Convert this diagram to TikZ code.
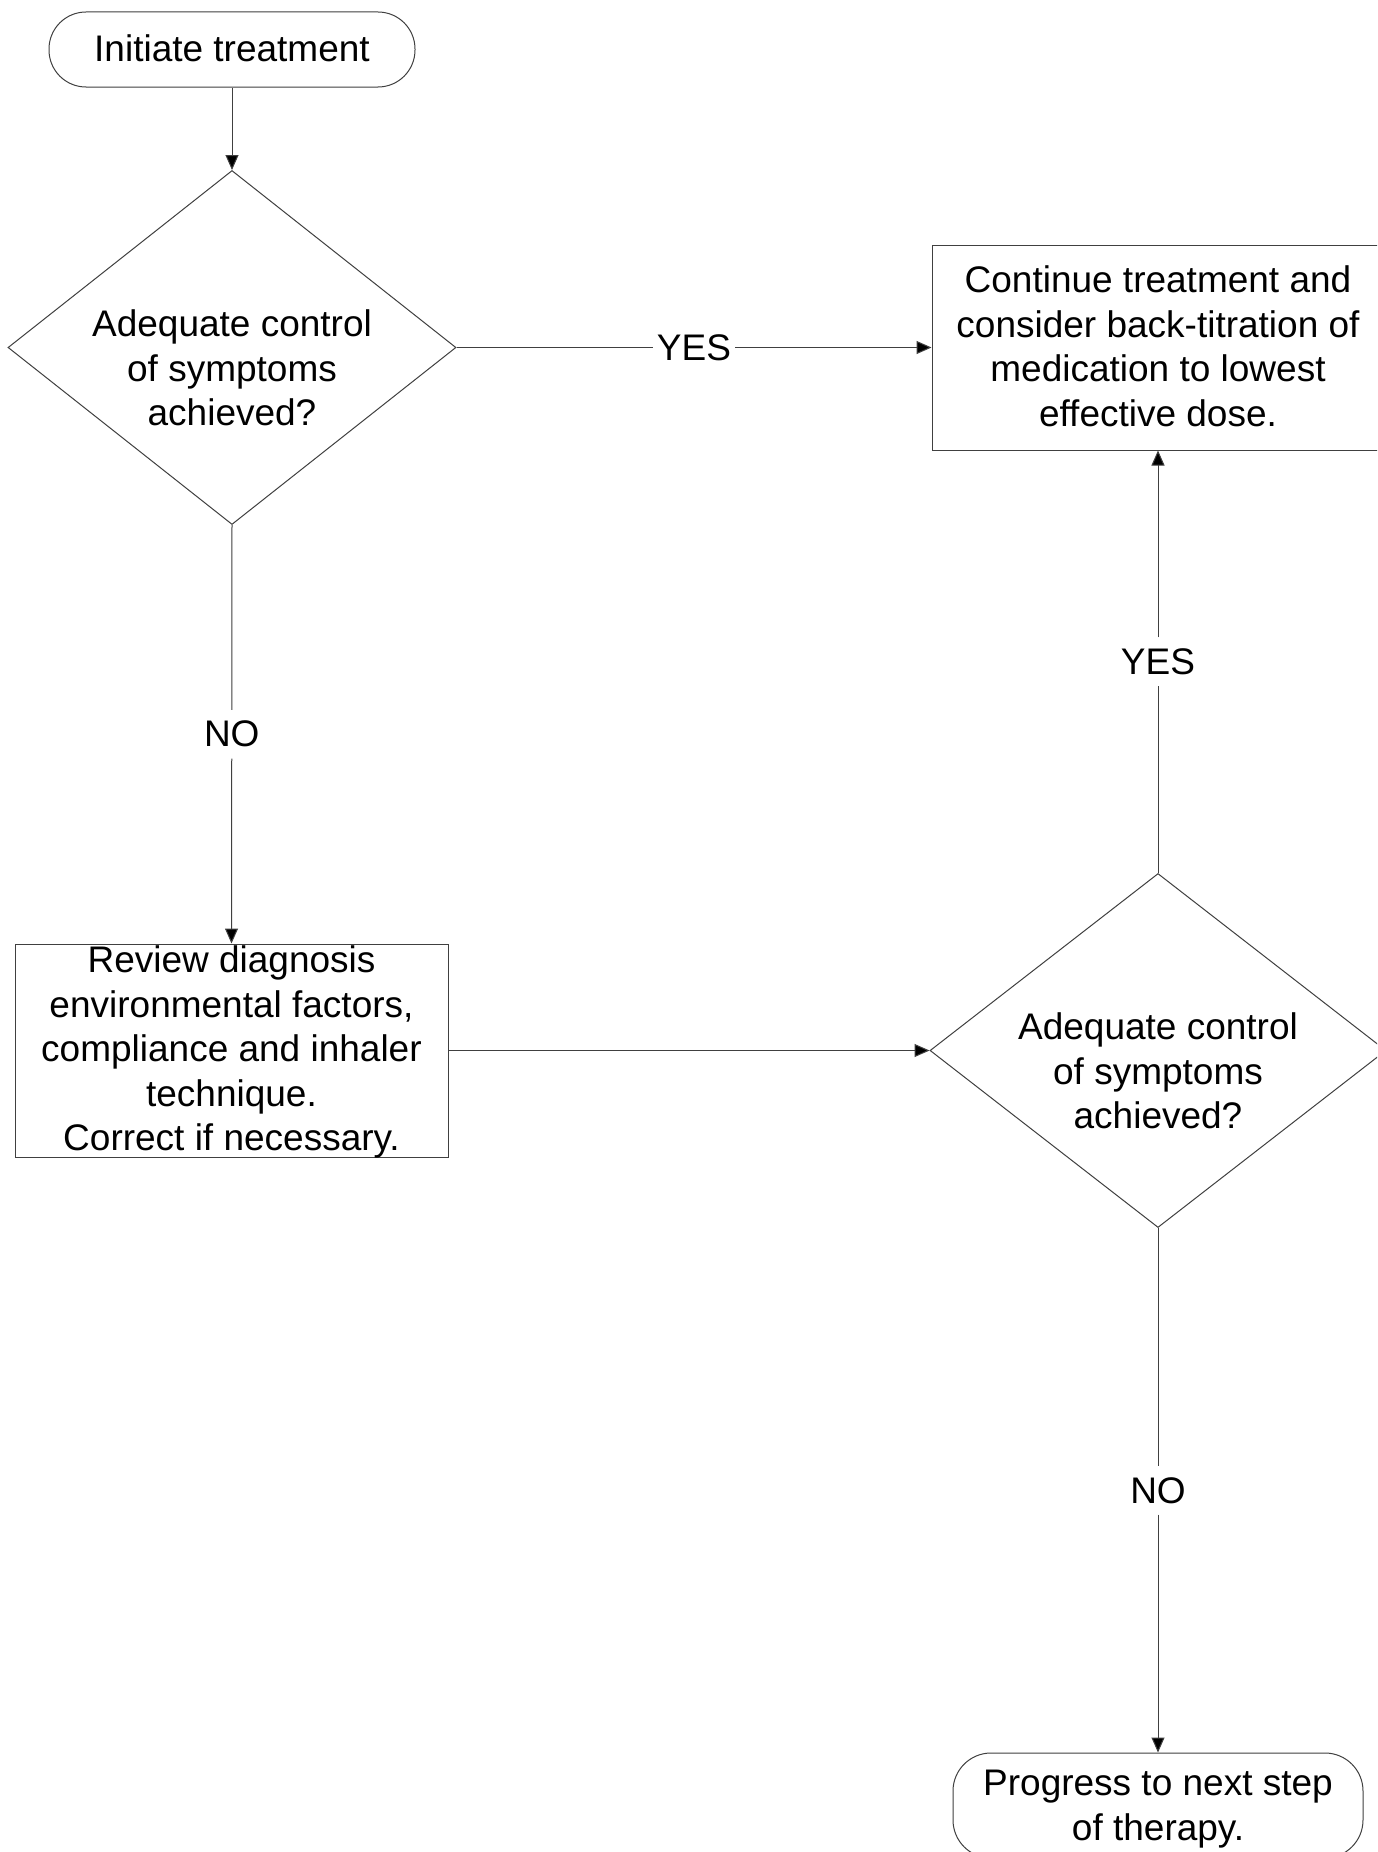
\documentclass[tikz,border=0pt]{standalone}
\usepackage{fontspec}
\setmainfont{Liberation Sans}
\usetikzlibrary{shapes.geometric,arrows.meta,calc}
\tikzset{
  ln/.style={draw=black!75, line width=1pt},
  arr/.style={ln, -{Triangle[length=15pt,width=13pt,fill=black]}},
  txt/.style={align=center, font=\fontsize{37}{44.5}\selectfont, inner sep=0pt, text=black},
  lbl/.style={font=\fontsize{37}{44.5}\selectfont, inner xsep=4pt, inner ysep=11pt, text=black},
  decision/.style={ln, diamond, inner sep=0pt, minimum width=#1, minimum height=354pt},
  procbox/.style={ln, rectangle, inner sep=0pt},
  term/.style={ln, rectangle, inner sep=0pt},
}
\begin{document}
\begin{tikzpicture}[x=1pt,y=-1pt]
\path[use as bounding box, fill=white] (0,0) rectangle (1377,1852);
\clip (0,0) rectangle (1377,1852);

% nodes
\node[term, rounded corners=37pt, minimum width=366pt, minimum height=75pt] (t1) at (232,49.5) {};
\node[txt] (t1txt) at (232,48.5) {Initiate treatment};

\node[decision=448pt] (d1) at (232,347.5) {};
\node[txt] (d1txt) at (232,368) {Adequate control\\of symptoms\\achieved?};

\node[procbox, minimum width=452pt, minimum height=205pt] (b1) at (1158,347.5) {};
\node[txt] (b1txt) at (1158,346.5) {Continue treatment and\\consider back-titration of\\medication to lowest\\effective dose.};

\node[procbox, minimum width=433pt, minimum height=213pt] (rev) at (231.5,1050.5) {};
\node[txt] (revtxt) at (231.5,1052) {Review diagnosis\\environmental factors,\\compliance and inhaler\\technique.\\ Correct if necessary.};

\node[decision=456pt] (d2) at (1158,1050.5) {};
\node[txt] (d2txt) at (1158,1071) {Adequate control\\of symptoms\\achieved?};

\node[term, rounded corners=38pt, minimum width=410pt, minimum height=105pt] (t2) at (1158,1805.5) {};
\node[txt] (t2txt) at (1158,1809) {Progress to next step\\of therapy.};

% connector labels
\node[lbl] (yes1) at ($(d1.east)!0.5!(b1.west)$) {YES};
\node[lbl] (no1) at ($(d1.south)!0.5!(rev.north)$) {NO};
\node[lbl] (yes2) at ($(d2.north)!0.5!(b1.south)$) {YES};
\node[lbl] (no2) at ($(d2.south)!0.5!(t2.north)$) {NO};

% connectors
\draw[arr] (t1.south) -- (d1.north);
\draw[ln] (d1.east) -- (yes1.west);
\draw[arr] (yes1.east) -- (b1.west);
\draw[ln] (d1.south) -- (no1.north);
\draw[arr] (no1.south) -- (rev.north);
\draw[arr] (rev.east) -- (d2.west);
\draw[ln] (d2.north) -- (yes2.south);
\draw[arr] (yes2.north) -- (b1.south);
\draw[ln] (d2.south) -- (no2.north);
\draw[arr] (no2.south) -- (t2.north);
\end{tikzpicture}
\end{document}
